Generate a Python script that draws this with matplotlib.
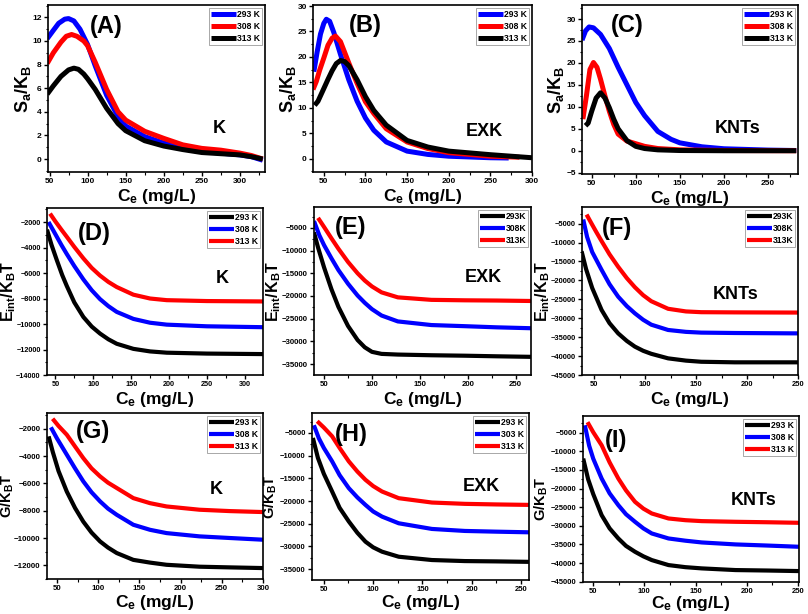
import numpy as np
import matplotlib
matplotlib.use("Agg")
import matplotlib.pyplot as plt
from matplotlib.ticker import MultipleLocator

plt.rcParams['font.family'] = ['Liberation Sans', 'DejaVu Sans']
plt.rcParams['font.weight'] = 'bold'
plt.rcParams['mathtext.fontset'] = 'custom'
plt.rcParams['mathtext.rm'] = 'Liberation Sans:bold'
plt.rcParams['mathtext.it'] = 'Liberation Sans:bold'
plt.rcParams['mathtext.bf'] = 'Liberation Sans:bold'

# ---- panel A : S_a/K_B, K ----
a_x_293 = [47, 55, 62, 70, 75, 82, 90, 100, 110, 125, 140, 150, 175, 200, 225, 250, 275, 300, 315, 330]
a_y_293 = [10.2, 10.9, 11.5, 11.85, 11.9, 11.7, 11.0, 9.7, 7.9, 5.4, 3.6, 2.8, 1.9, 1.35, 0.95, 0.65, 0.5, 0.35, 0.2, -0.1]
a_x_308 = [47, 55, 65, 72, 79, 86, 95, 100, 110, 125, 140, 150, 175, 200, 225, 250, 275, 300, 315, 330]
a_y_308 = [8.1, 9.0, 9.9, 10.4, 10.55, 10.4, 10.0, 9.6, 8.2, 5.9, 4.0, 3.3, 2.35, 1.75, 1.2, 0.9, 0.75, 0.5, 0.3, 0.0]
a_x_313 = [47, 55, 65, 75, 82, 88, 95, 100, 110, 125, 140, 150, 175, 200, 225, 250, 275, 300, 315, 330]
a_y_313 = [5.5, 6.2, 7.0, 7.55, 7.7, 7.6, 7.2, 6.8, 5.9, 4.3, 3.0, 2.4, 1.55, 1.1, 0.8, 0.55, 0.45, 0.35, 0.2, 0.0]

# ---- panel B : S_a/K_B, EXK ----
b_x_293 = [38, 42, 46, 50, 53, 57, 62, 70, 80, 90, 100, 110, 125, 150, 175, 200, 250, 272]
b_y_293 = [17.1, 21.0, 24.5, 26.6, 27.4, 27.0, 24.8, 20.5, 15.5, 11.3, 8.0, 5.6, 3.3, 1.5, 0.85, 0.5, 0.2, 0.15]
b_x_308 = [37, 41, 45, 50, 55, 60, 64, 70, 80, 90, 100, 110, 125, 150, 175, 200, 250, 285]
b_y_308 = [13.6, 15.2, 17.4, 19.8, 22.3, 23.7, 24.1, 23.0, 18.8, 14.8, 11.2, 8.9, 5.9, 3.3, 2.0, 1.2, 0.5, 0.3]
b_x_313 = [39, 43, 50, 55, 60, 65, 70, 75, 80, 90, 100, 110, 125, 150, 175, 200, 250, 300]
b_y_313 = [10.5, 11.3, 13.8, 15.6, 17.3, 18.7, 19.3, 19.1, 18.3, 15.5, 12.2, 9.5, 6.6, 3.6, 2.3, 1.5, 0.8, 0.2]

# ---- panel C : S_a/K_B, KNTs ----
c_x_293 = [39, 43, 47, 52, 60, 70, 80, 90, 100, 110, 125, 140, 150, 175, 200, 250, 282]
c_y_293 = [25.2, 27.3, 28.2, 28.0, 26.5, 23.3, 19.0, 15.0, 11.0, 8.0, 4.4, 2.6, 1.8, 0.9, 0.45, 0.15, 0.05]
c_x_308 = [40, 44, 48, 52, 56, 60, 65, 70, 75, 80, 90, 100, 110, 125, 150, 200, 282]
c_y_308 = [7.2, 12.5, 18.5, 20.1, 19.0, 16.3, 12.5, 9.0, 6.0, 3.8, 2.2, 1.6, 1.0, 0.5, 0.2, 0.05, 0.0]
c_x_313 = [43, 46, 50, 55, 60, 65, 70, 75, 80, 90, 100, 110, 125, 150, 200, 282]
c_y_313 = [5.7, 6.3, 9.0, 12.0, 13.2, 12.0, 9.8, 7.2, 5.0, 2.3, 1.0, 0.5, 0.2, 0.05, 0.0, 0.0]

# ---- panel D : E_int/K_BT, K ----
d_x_293 = [39, 45, 52, 59, 65, 75, 87, 98, 109, 120, 131, 153, 175, 197, 250, 324]
d_y_293 = [-2600, -3800, -5000, -6150, -7000, -8300, -9450, -10200, -10750, -11200, -11550, -11950, -12150, -12250, -12320, -12360]
d_x_308 = [41, 50, 58, 65, 75, 87, 98, 109, 120, 131, 153, 175, 197, 250, 324]
d_y_308 = [-2000, -2950, -3800, -4500, -5450, -6500, -7350, -8050, -8600, -9050, -9600, -9900, -10050, -10180, -10250]
d_x_313 = [43, 50, 58, 65, 75, 87, 98, 109, 120, 131, 153, 175, 197, 250, 324]
d_y_313 = [-1340, -1950, -2600, -3150, -3950, -4850, -5600, -6200, -6700, -7100, -7700, -8000, -8130, -8200, -8230]

# ---- panel E : E_int/K_BT, EXK ----
e_x_293 = [39.5, 43.7, 50, 57.7, 65, 75, 85, 92.5, 100, 110, 127, 162, 197, 230, 266]
e_y_293 = [-6000, -9300, -13700, -18500, -22400, -26600, -29700, -31300, -32300, -32750, -32900, -33050, -33150, -33280, -33400]
e_x_308 = [39.5, 45, 50, 57.7, 65, 75, 85, 92.5, 100, 110, 127, 162, 197, 230, 266]
e_y_308 = [-3500, -6600, -8800, -11700, -14300, -17300, -19900, -21500, -22900, -24300, -25600, -26400, -26650, -26900, -27100]
e_x_313 = [43.7, 50, 57.7, 65, 75, 85, 92.5, 100, 110, 127, 162, 197, 230, 266]
e_y_313 = [-2800, -4800, -7300, -9600, -12500, -15000, -16600, -17900, -19200, -20300, -20850, -20950, -21000, -21100]

# ---- panel F : E_int/K_BT, KNTs ----
f_x_293 = [37.6, 42, 48, 57.2, 65, 73.5, 82, 89.9, 98, 106, 122.5, 140, 155, 188, 220, 250]
f_y_293 = [-12300, -17000, -22000, -27800, -31300, -34000, -36000, -37500, -38600, -39400, -40600, -41200, -41500, -41650, -41650, -41650]
f_x_308 = [39.2, 43, 48, 57.2, 65, 73.5, 82, 89.9, 98, 106, 122.5, 140, 155, 188, 250]
f_y_308 = [-3900, -8500, -12500, -17200, -21000, -24300, -26800, -28700, -30400, -31700, -33100, -33600, -33800, -33900, -34000]
f_x_313 = [42.5, 47, 52, 57.2, 65, 73.5, 82, 89.9, 98, 106, 122.5, 140, 155, 188, 250]
f_y_313 = [-2600, -4800, -7200, -9600, -13100, -16400, -19400, -21800, -23900, -25500, -27500, -28200, -28400, -28450, -28500]

# ---- panel G : G/K_BT, K ----
g_x_293 = [40, 45, 52, 62, 72, 82, 92, 102.4, 112, 122.6, 142.7, 163, 183, 223, 260, 300]
g_y_293 = [-2560, -3700, -5100, -6600, -7800, -8800, -9600, -10250, -10700, -11100, -11600, -11800, -11960, -12100, -12150, -12200]
g_x_308 = [42.7, 50, 62, 72, 82, 92, 102.4, 112, 122.6, 142.7, 163, 183, 223, 260, 300]
g_y_308 = [-1900, -2700, -3900, -4900, -5850, -6650, -7320, -7850, -8300, -9030, -9400, -9640, -9880, -10000, -10125]
g_x_313 = [44.8, 52, 62, 72, 82, 92, 102.4, 112, 122.6, 142.7, 163, 183, 223, 260, 300]
g_y_313 = [-1270, -1800, -2440, -3300, -4150, -4900, -5490, -5950, -6340, -7080, -7450, -7690, -7930, -8030, -8100]

# ---- panel H : G/K_BT, EXK ----
h_x_293 = [38.9, 44, 50, 58.4, 66, 75.3, 84, 92.2, 100, 109, 125.9, 159.6, 193, 225, 258]
h_y_293 = [-6100, -10500, -14000, -17900, -21500, -24500, -27000, -28950, -30200, -31160, -32270, -33000, -33230, -33300, -33400]
h_x_303 = [39.9, 45, 50, 58.4, 66, 75.3, 84, 92.2, 100, 109, 125.9, 159.6, 193, 225, 258]
h_y_303 = [-3300, -6200, -8300, -11260, -14300, -17160, -19200, -20850, -22300, -23430, -24900, -26150, -26590, -26750, -26890]
h_x_313 = [43.3, 50, 58.4, 66, 75.3, 84, 92.2, 100, 109, 125.9, 159.6, 193, 225, 258]
h_y_313 = [-2420, -3800, -5740, -8300, -11260, -13500, -15320, -16700, -17900, -19370, -20330, -20620, -20750, -20850]

# ---- panel I : G/K_BT, KNTs ----
i_x_293 = [40.2, 45, 50, 58.2, 66, 74.5, 82, 90.8, 99, 107.2, 123.5, 140, 156, 189, 220, 251]
i_y_293 = [-11970, -17500, -21500, -27150, -30700, -33400, -35400, -36970, -38200, -39200, -40540, -41100, -41430, -41880, -42000, -42150]
i_x_308 = [41.8, 46, 50, 58.2, 66, 74.5, 82, 90.8, 99, 107.2, 123.5, 140, 156, 189, 220, 251]
i_y_308 = [-3040, -8500, -12000, -17320, -21300, -24470, -26900, -28930, -30700, -32060, -33400, -34000, -34470, -35000, -35300, -35630]
i_x_313 = [44.4, 50, 58.2, 66, 74.5, 82, 90.8, 99, 107.2, 123.5, 140, 156, 189, 220, 251]
i_y_313 = [-2200, -4900, -8390, -13000, -17320, -20500, -23570, -25400, -26700, -28040, -28500, -28750, -28930, -29050, -29200]

BLUE, RED, BLACK = '#0000ff', '#ff0000', '#000000'

W, H = 808, 614
fig = plt.figure(figsize=(W / 100, H / 100), dpi=100)


def draw(box, curves, xlim, ylim, ystep, ylabel, ylab_px, tag, tag_xy, name, name_xy,
         lw=3.0, tsize=6.0, ysize=11.5, xlab_px=15):
    l, rt, t, b = box
    wpx, hpx = rt - l, b - t
    ax = fig.add_axes([l / W, 1 - b / H, wpx / W, hpx / H])
    for x, y, c, lab in curves:
        ax.plot(x, y, color=c, lw=lw, label=lab, solid_capstyle='butt')
    ax.set_xlim(*xlim)
    ax.set_ylim(*ylim)
    ax.xaxis.set_major_locator(MultipleLocator(50))
    ax.xaxis.set_minor_locator(MultipleLocator(25))
    ax.yaxis.set_major_locator(MultipleLocator(ystep))
    ax.yaxis.set_minor_locator(MultipleLocator(ystep / 2))
    ax.tick_params(which='major', direction='out', length=3, width=1.0, labelsize=tsize, pad=1.5)
    ax.tick_params(which='minor', direction='out', length=1.8, width=0.8)
    for lab in ax.get_xticklabels() + ax.get_yticklabels():
        lab.set_fontweight('bold')
    for s in ax.spines.values():
        s.set_linewidth(1.2)
    ax.set_xlabel('C$_e$ (mg/L)', fontsize=12.5, fontweight='bold')
    ax.xaxis.set_label_coords(0.5, -xlab_px / hpx)
    ax.set_ylabel(ylabel, fontsize=ysize, fontweight='bold')
    ax.yaxis.set_label_coords(-ylab_px / wpx, 0.5)
    ax.text(tag_xy[0], tag_xy[1], tag, transform=ax.transAxes, fontsize=17,
            fontweight='bold', ha='center', va='center')
    ax.text(name_xy[0], name_xy[1], name, transform=ax.transAxes, fontsize=13,
            fontweight='bold', ha='center', va='center')
    leg = ax.legend(loc='upper right', fontsize=6.2, frameon=True, fancybox=False,
                    handlelength=2.9, handletextpad=0.1, borderpad=0.25,
                    labelspacing=0.35, borderaxespad=0.3, edgecolor='#808080')
    leg.get_frame().set_linewidth(0.6)
    for t in leg.get_texts():
        t.set_fontweight('bold')
    return ax


sa = 'S$_a$/K$_B$'
ei = 'E$_{int}$/K$_B$T'
gk = 'G/K$_B$T'

draw((48, 265, 5, 172),
     [(a_x_293, a_y_293, BLUE, '293 K'), (a_x_308, a_y_308, RED, '308 K'), (a_x_313, a_y_313, BLACK, '313 K')],
     (48, 333), (-1.1, 13.05), 2, sa, 15, '(A)', (0.27, 0.87), 'K', (0.79, 0.26), lw=3.6, ysize=13)
draw((313, 532, 5, 172),
     [(b_x_293, b_y_293, BLUE, '293 K'), (b_x_308, b_y_308, RED, '308 K'), (b_x_313, b_y_313, BLACK, '313 K')],
     (37, 300), (-2.6, 30.2), 5, sa, 15, '(B)', (0.24, 0.88), 'EXK', (0.78, 0.24), lw=3.6, ysize=13)
draw((582, 798, 5, 174),
     [(c_x_293, c_y_293, BLUE, '293 K'), (c_x_308, c_y_308, RED, '308 K'), (c_x_313, c_y_313, BLACK, '313 K')],
     (39, 284), (-5.3, 33.2), 5, sa, 16, '(C)', (0.21, 0.88), 'KNTs', (0.72, 0.27), lw=3.6, ysize=13)

draw((47, 263, 208, 375),
     [(d_x_293, d_y_293, BLACK, '293 K'), (d_x_308, d_y_308, BLUE, '308 K'), (d_x_313, d_y_313, RED, '313 K')],
     (39, 324), (-14000, -900), 2000, ei, 29, '(D)', (0.22, 0.85), 'K', (0.81, 0.58), tsize=5.2)
draw((314, 531, 207, 375),
     [(e_x_293, e_y_293, BLACK, '293K'), (e_x_308, e_y_308, BLUE, '308K'), (e_x_313, e_y_313, RED, '313K')],
     (39.5, 266), (-37400, -400), 5000, ei, 31, '(E)', (0.17, 0.88), 'EXK', (0.78, 0.58), tsize=5.6)
draw((582, 798, 207, 375),
     [(f_x_293, f_y_293, BLACK, '293K'), (f_x_308, f_y_308, BLUE, '308K'), (f_x_313, f_y_313, RED, '313K')],
     (38, 250), (-45000, -600), 5000, ei, 30, '(F)', (0.16, 0.87), 'KNTs', (0.71, 0.48), tsize=5.4)

draw((47, 263, 413, 579),
     [(g_x_293, g_y_293, BLACK, '293 K'), (g_x_308, g_y_308, BLUE, '308 K'), (g_x_313, g_y_313, RED, '313 K')],
     (38, 300), (-13000, -850), 2000, gk, 31, '(G)', (0.215, 0.89), 'K', (0.785, 0.54),
     xlab_px=14, tsize=5.7, ysize=10.5)
draw((312, 529, 413, 580),
     [(h_x_293, h_y_293, BLACK, '293 K'), (h_x_303, h_y_303, BLUE, '303 K'), (h_x_313, h_y_313, RED, '313 K')],
     (38, 258), (-37400, -600), 5000, gk, 33, '(H)', (0.18, 0.87), 'EXK', (0.78, 0.56),
     xlab_px=13, tsize=5.5, ysize=10.5)
draw((583, 799, 416, 582),
     [(i_x_293, i_y_293, BLACK, '293 K'), (i_x_308, i_y_308, BLUE, '308 K'), (i_x_313, i_y_313, RED, '313 K')],
     (40, 251), (-45080, -550), 5000, gk, 33, '(I)', (0.155, 0.85), 'KNTs', (0.79, 0.49),
     xlab_px=12, tsize=5.5, ysize=10.5)

fig.savefig('out.png', dpi=100)
